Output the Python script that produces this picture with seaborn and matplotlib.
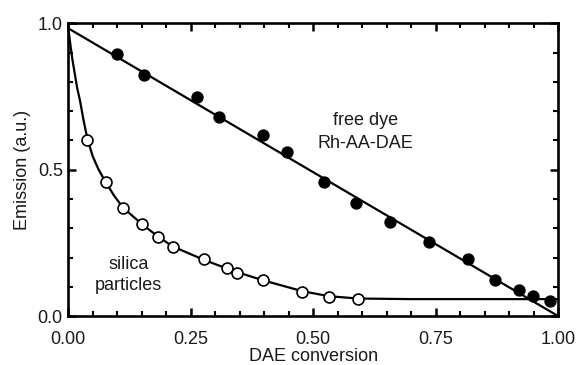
import numpy as np
import pandas as pd
import matplotlib
matplotlib.use("Agg")
import matplotlib.pyplot as plt
from matplotlib.ticker import MultipleLocator, FormatStrFormatter
import seaborn as sns

# free dye Rh-AA-DAE (filled circles)
dye_x = [0.099, 0.154, 0.262, 0.308, 0.397, 0.446, 0.521, 0.588, 0.657,
         0.737, 0.816, 0.872, 0.920, 0.948, 0.984]
dye_y = [0.895, 0.823, 0.749, 0.681, 0.619, 0.559, 0.459, 0.387, 0.322,
         0.252, 0.195, 0.123, 0.089, 0.069, 0.052]
# straight fit line for the free dye
dye_fit_x = [0.0, 1.0]
dye_fit_y = [0.983, 0.0]

# silica particles (open circles)
sil_x = [0.039, 0.076, 0.112, 0.151, 0.183, 0.213, 0.277, 0.323, 0.345,
         0.398, 0.478, 0.532, 0.591]
sil_y = [0.601, 0.459, 0.368, 0.314, 0.271, 0.236, 0.195, 0.163, 0.148,
         0.123, 0.082, 0.064, 0.058]
# fit curve for the silica particles
sil_fit_x = [0.0, 0.004, 0.008, 0.013, 0.018, 0.024, 0.031, 0.039, 0.050,
             0.062, 0.076, 0.094, 0.112, 0.151, 0.183, 0.213, 0.277, 0.323,
             0.345, 0.398, 0.478, 0.532, 0.591, 0.70, 0.85, 1.0]
sil_fit_y = [0.983, 0.93, 0.88, 0.83, 0.78, 0.735, 0.67, 0.605, 0.545,
             0.50, 0.458, 0.41, 0.37, 0.313, 0.272, 0.238, 0.192, 0.163,
             0.150, 0.122, 0.085, 0.068, 0.060, 0.058, 0.058, 0.058]

sns.set_style("ticks")
plt.rcParams["font.family"] = ["Liberation Sans", "DejaVu Sans"]
FS = 13
TXT = "#1a1a1a"

fig = plt.figure(figsize=(5.76, 3.65), dpi=100)
ax = fig.add_axes([0.1186, 0.134, 0.8504, 0.802])

sns.lineplot(x=dye_fit_x, y=dye_fit_y, ax=ax, color="black", lw=1.6,
             sort=False, estimator=None)
sns.lineplot(x=sil_fit_x, y=sil_fit_y, ax=ax, color="black", lw=1.6,
             sort=False, estimator=None)
sns.scatterplot(x=dye_x, y=dye_y, ax=ax, color="black", s=62,
                edgecolor="black", linewidth=1.0, zorder=3)
sns.scatterplot(x=sil_x, y=sil_y, ax=ax, facecolor="white", s=62,
                edgecolor="black", linewidth=1.2, zorder=3)

ax.text(0.606, 0.629, "free dye\nRh-AA-DAE", ha="center", va="center",
        fontsize=FS, linespacing=1.4, color=TXT)
ax.text(0.1226, 0.141, "silica\nparticles", ha="center", va="center",
        fontsize=FS, linespacing=1.35, color=TXT)

ax.set_xlim(0, 1)
ax.set_ylim(0, 1)
ax.xaxis.set_major_locator(MultipleLocator(0.25))
ax.xaxis.set_minor_locator(MultipleLocator(0.05))
ax.yaxis.set_major_locator(MultipleLocator(0.5))
ax.yaxis.set_minor_locator(MultipleLocator(0.1))
ax.xaxis.set_major_formatter(FormatStrFormatter("%.2f"))
ax.yaxis.set_major_formatter(FormatStrFormatter("%.1f"))
ax.tick_params(which="both", direction="in", top=True, right=True,
               labelsize=FS, color="black", labelcolor=TXT)
ax.tick_params(which="major", length=6, width=1.8)
ax.tick_params(axis="x", which="major", pad=11)
ax.tick_params(axis="y", which="major", pad=4)
ax.tick_params(which="minor", length=3.5, width=1.5)
for sp in ax.spines.values():
    sp.set_linewidth(1.9)
    sp.set_color("black")

ax.set_xlabel("DAE conversion", fontsize=FS, labelpad=0, color=TXT)
ax.set_ylabel("Emission (a.u.)", fontsize=FS, labelpad=5, color=TXT)

fig.savefig("out.png", dpi=100)
